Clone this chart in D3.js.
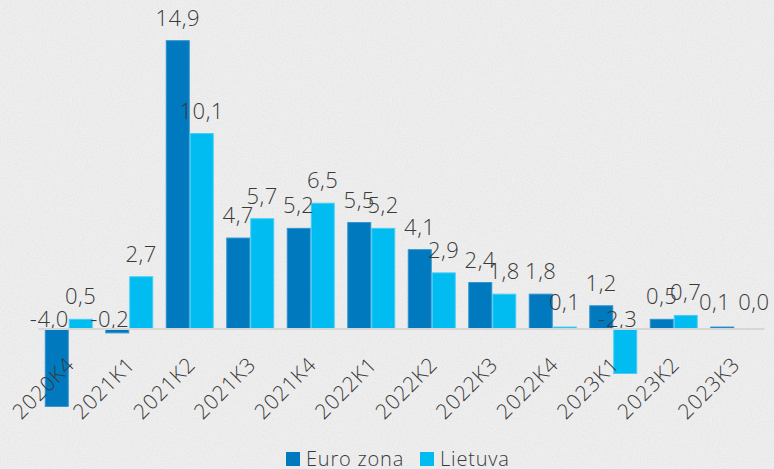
<!DOCTYPE html>
<html>
<head>
<meta charset="utf-8">
<script src="https://cdn.jsdelivr.net/npm/d3@7"></script>
<style>
  body { margin: 0; background: #ececec; }
  svg { display: block; }
  text { font-family: "Open Sans", sans-serif; font-weight: 300; fill: #3a3a3a; }
</style>
</head>
<body>
<div class="mainWrapper"></div>
<script>
var categories = ["2020K4", "2021K1", "2021K2", "2021K3", "2021K4", "2022K1",
                  "2022K2", "2022K3", "2022K4", "2023K1", "2023K2", "2023K3"];
var euroZona = [-4.0, -0.2, 14.9, 4.7, 5.2, 5.5, 4.1, 2.4, 1.8, 1.2, 0.5, 0.1];
var lietuva = [0.5, 2.7, 10.1, 5.7, 6.5, 5.2, 2.9, 1.8, 0.1, -2.3, 0.7, 0.0];
var seriesNames = ["Euro zona", "Lietuva"];

var width = 774, height = 469;
var colors = {"Euro zona": "#0079be", "Lietuva": "#00bcf0"};
var strokes = {"Euro zona": "#2f93cf", "Lietuva": "#45cdf5"};

var svg = d3.select(".mainWrapper")
  .append("svg")
    .attr("width", width)
    .attr("height", height);

// paper-like background
var defs = svg.append("defs");
var f = defs.append("filter").attr("id", "paper")
  .attr("x", 0).attr("y", 0).attr("width", "100%").attr("height", "100%");
f.append("feTurbulence").attr("type", "fractalNoise")
  .attr("baseFrequency", 0.8).attr("numOctaves", 3).attr("seed", 4);
f.append("feColorMatrix").attr("type", "matrix")
  .attr("values", "0 0 0 0 0.45  0 0 0 0 0.45  0 0 0 0 0.45  0 0 0 -1.1 0.75");

svg.append("rect").attr("width", width).attr("height", height).attr("fill", "#efefef");
svg.append("rect").attr("width", width).attr("height", height)
  .attr("filter", "url(#paper)").attr("opacity", 0.25);

var data = categories.map(function(c, i) {
  return {cat: c, values: [
    {name: "Euro zona", value: euroZona[i]},
    {name: "Lietuva", value: lietuva[i]}
  ]};
});

var x0 = d3.scaleBand()
  .domain(categories)
  .range([38.5, 764.5])
  .paddingInner(0.207)
  .paddingOuter(0.1035);

var x1 = d3.scaleBand()
  .domain(seriesNames)
  .range([0, x0.bandwidth()]);

var y = d3.scaleLinear()
  .domain([-6, 16])
  .range([445.1, 19.4]);

var fmt = function(v) { return d3.format(".1f")(v).replace(".", ",").replace("−", "-"); };

var groups = svg.append("g")
  .selectAll("g")
  .data(data)
  .enter()
  .append("g")
    .attr("transform", function(d) { return "translate(" + x0(d.cat) + ",0)"; });

groups.selectAll("rect")
  .data(function(d) { return d.values; })
  .enter()
  .append("rect")
    .attr("x", function(d) { return x1(d.name) + 0.5; })
    .attr("width", x1.bandwidth() - 1)
    .attr("y", function(d) { return y(Math.max(0, d.value)); })
    .attr("height", function(d) { return Math.abs(y(d.value) - y(0)); })
    .attr("fill", function(d) { return colors[d.name]; })
    .attr("stroke", function(d) { return strokes[d.name]; })
    .attr("stroke-width", 1);

// zero line
svg.append("line")
  .attr("x1", x0.range()[0]).attr("x2", x0.range()[1])
  .attr("y1", y(0)).attr("y2", y(0))
  .attr("stroke", "#d6d6d6")
  .attr("stroke-width", 2);

// value labels
groups.each(function(g) {
  var grp = d3.select(this);
  var labels = grp.selectAll("text.val")
    .data(g.values)
    .enter()
    .append("text")
      .attr("class", "val")
      .attr("y", function(d) { return d.value >= 0 ? Math.min(y(d.value), y(0) - 4) - 15 : y(0) - 2; })
      .attr("text-anchor", "middle")
      .attr("font-size", 22)
      .attr("letter-spacing", 0.5)
      .text(function(d) { return fmt(d.value); });

  var pos = [];
  labels.each(function(d) {
    var w = this.getComputedTextLength();
    var cx = x1(d.name) + x1.bandwidth() / 2;
    // negative labels sit on the axis, kept left of the bar's right edge
    if (d.value < 0) cx = Math.min(cx, x1(d.name) + x1.bandwidth() - w / 2);
    pos.push({cx: cx, w: w, y: +d3.select(this).attr("y")});
  });
  // push apart labels that sit on the same line and collide
  if (pos.length == 2 && Math.abs(pos[0].y - pos[1].y) < 2) {
    var gap = (pos[1].cx - pos[1].w / 2) - (pos[0].cx + pos[0].w / 2);
    if (gap < 8) {
      pos[0].cx -= (8 - gap) / 2;
      pos[1].cx += (8 - gap) / 2;
    }
  }
  labels.attr("x", function(d, i) { return pos[i].cx; });
});

// category axis labels
svg.append("g")
  .selectAll("text")
  .data(categories)
  .enter()
  .append("text")
    .attr("transform", function(d) {
      return "translate(" + (x0(d) + x0.bandwidth() / 2 + 7) + "," + 366 + ") rotate(-45)";
    })
    .attr("text-anchor", "end")
    .attr("font-size", 21)
    .attr("letter-spacing", 0.8)
    .text(function(d) { return d; });

// legend
var legend = svg.append("g").attr("transform", "translate(286,452)");
var lx = [0, 134];
seriesNames.forEach(function(s, i) {
  legend.append("rect")
    .attr("x", lx[i]).attr("y", 0)
    .attr("width", 14).attr("height", 14)
    .attr("fill", colors[s]);
  legend.append("text")
    .attr("x", lx[i] + 20).attr("y", 14)
    .attr("font-size", 20)
    .attr("letter-spacing", 0.8)
    .text(s);
});
</script>
</body>
</html>
